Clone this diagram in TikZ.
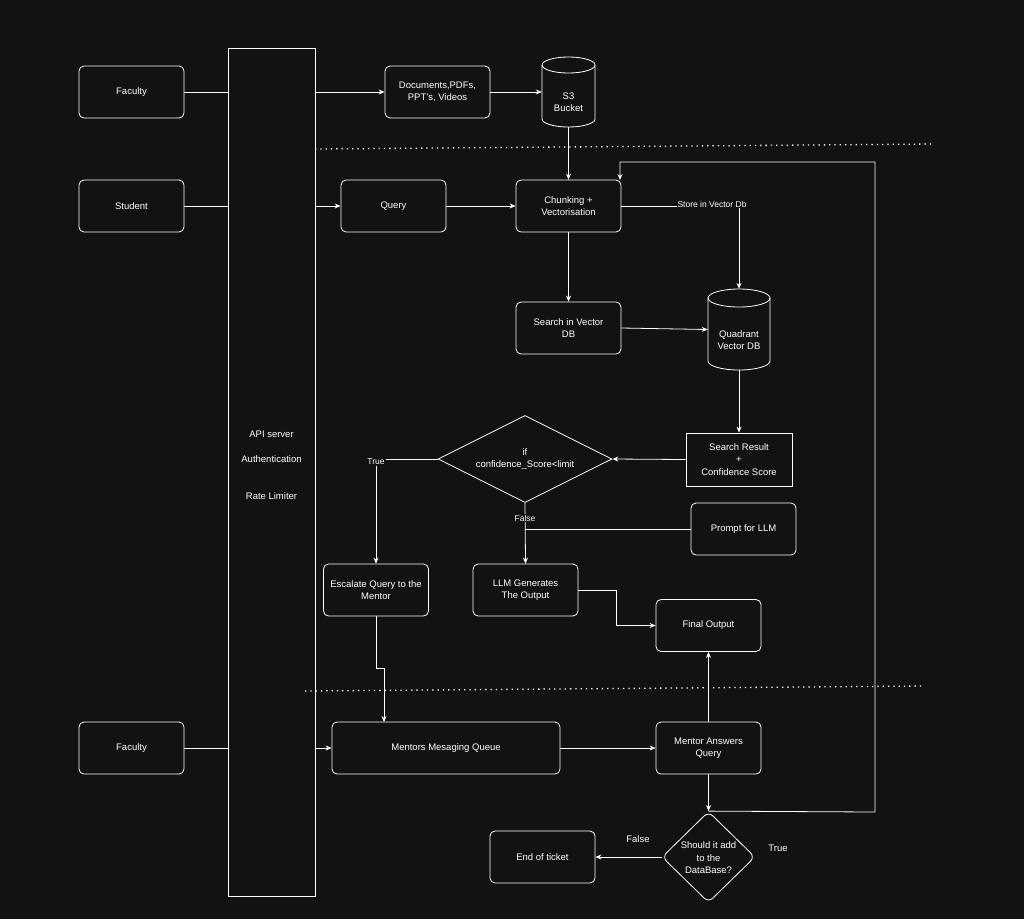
\documentclass[tikz,border=0pt]{standalone}
\usepackage{fontspec}
\setmainfont{Liberation Sans}
\usetikzlibrary{arrows.meta,shapes.geometric}
\begin{document}
\begin{tikzpicture}[x=1pt,y=-1pt,
  every node/.style={text=white,font=\fontsize{9.5}{12.5}\selectfont,align=center},
  box/.style={draw=white,line width=0.8pt,rounded corners=5pt,minimum width=105pt,minimum height=52pt,inner sep=1pt},
  sbox/.style={draw=white,line width=0.8pt,minimum width=106pt,minimum height=53pt,inner sep=1pt},
  dia/.style={draw=white,line width=0.8pt,diamond,aspect=2,inner sep=0pt},
  hold/.style={minimum width=#1,minimum height=0pt,inner sep=0pt},
  ln/.style={draw=white,line width=0.8pt},
  ar/.style={ln,-{Stealth[length=6pt,width=5pt]}},
  lbl/.style={fill=black!93,inner sep=1pt,font=\fontsize{8.5}{10}\selectfont},
  dot/.style={draw=white,line width=1.3pt,dash pattern=on 1.3pt off 4pt}]
\fill[black!93] (0,0) rectangle (1024,919);
\useasboundingbox (0,0) rectangle (1024,919);
% API bar
\node[draw=white,line width=0.8pt,minimum width=87pt,minimum height=848pt,inner sep=0pt] (api) at (271.5,472) {};
\node at (271.5,434) {API server};
\node at (271.5,459) {Authentication};
\node at (271.5,496) {Rate Limiter};
% left actors
\node[box] (fac1) at (131.5,92) {Faculty};
\node[box] (stu) at (131.5,206) {Student};
\node[box] (fac2) at (131.5,748) {Faculty};
\draw[ln] (fac1.east) -- (228,92);
\draw[ln] (stu.east) -- (228,206);
\draw[ln] (fac2.east) -- (228,748);
% top row
\node[box] (docs) at (437.5,92) {Documents,PDFs,\\PPT's, Videos};
% S3 cylinder
\draw[ln,fill=black!93] (542,65) -- (542,119) arc[start angle=180,end angle=0,x radius=26.5,y radius=8] -- (595,65);
\draw[ln] (568.5,65) ellipse[x radius=26.5,y radius=8];
\node[hold=53pt,minimum height=70pt] (s3) at (568.5,92) {};
\node at (568.5,102) {S3\\Bucket};
\draw[ar] (315,92) -- (docs.west);
\draw[ar] (docs.east) -- (s3.west);
\draw[dot] (315,149) -- (933,144);
% second row
\node[box] (query) at (393.5,206) {Query};
\node[box] (chunk) at (568.5,206) {Chunking +\\Vectorisation};
\draw[ar] (315,206) -- (query.west);
\draw[ar] (query.east) -- (chunk.west);
\draw[ar] (s3.south) -- (chunk.north);
\node[box] (srch) at (568.5,328) {Search in Vector\\DB};
\draw[ar] (chunk.south) -- (srch.north);
% Quadrant cylinder
\draw[ln,fill=black!93] (708,298) -- (708,361) arc[start angle=180,end angle=0,x radius=31,y radius=9] -- (770,298);
\draw[ln] (739,298) ellipse[x radius=31,y radius=9];
\node[hold=62pt,minimum height=81pt] (quad) at (739,329.5) {};
\node at (739,340) {Quadrant\\Vector DB};
\coordinate (sv) at (739,206);
\draw[ln] (chunk.east) -- (sv);
\draw[ar] (sv) -- (quad.north);
\node[lbl] at (712,204) {Store in Vector Db};
\draw[ar] (srch.east) -- (quad.west);
% decision
\node[sbox] (res) at (739,459.5) {Search Result\\+\\Confidence Score};
\draw[ar] (quad.south) -- (res.north);
\node[dia,minimum width=174pt,minimum height=87pt] (d1) at (525,459) {};
\node at (525,459) {if\\confidence\_Score<limit};
\draw[ar] (res.west) -- (d1.east);
\node[box] (esc) at (376,590) {Escalate Query to the\\Mentor};
\node[box] (llm) at (525.5,590) {LLM Generates\\The Output};
\node[box] (prm) at (743.5,529) {Prompt for LLM};
\node[box] (fin) at (708.5,625.5) {Final Output};
\coordinate (tc) at (376,459);
\draw[ln] (d1.west) -- (tc);
\draw[ar] (tc) -- (esc.north);
\node[lbl] at (376,462) {True};
\draw[ar] (d1.south) -- (llm.north);
\node[lbl] at (525,518) {False};
\draw[ln] (prm.west) -- (525,529);
\draw[ar] (llm.east) -- (616,590) -- (616,625.5) -- (fin.west);
% bottom
\draw[dot] (305,691) -- (925,686);
\node[box,minimum width=228pt] (mq) at (446,748) {Mentors Mesaging Queue};
\node[box] (ma) at (708.5,748) {Mentor Answers\\Query};
\draw[ar] (315,748) -- (mq.west);
\draw[ar] (esc.south) -- (376,668) -- (384,668) -- (384,722);
\draw[ar] (mq.east) -- (ma.west);
\draw[ar] (ma.north) -- (fin.south);
\node[draw=white,line width=0.8pt,diamond,rounded corners=6pt,minimum width=93pt,minimum height=91pt,inner sep=0pt] (d2) at (708.5,857) {};
\node at (708.5,858) {Should it add\\to the\\DataBase?};
\draw[ar] (ma.south) -- (d2.north);
\node[box] (end) at (542.5,857) {End of ticket};
\draw[ar] (d2.west) -- (end.east);
\node at (638,839) {False};
\node at (778,848) {True};
\draw[ar] (d2.north) -- (875,812) -- (875,162) -- (620,162) -- (620,180);
\end{tikzpicture}
\end{document}
